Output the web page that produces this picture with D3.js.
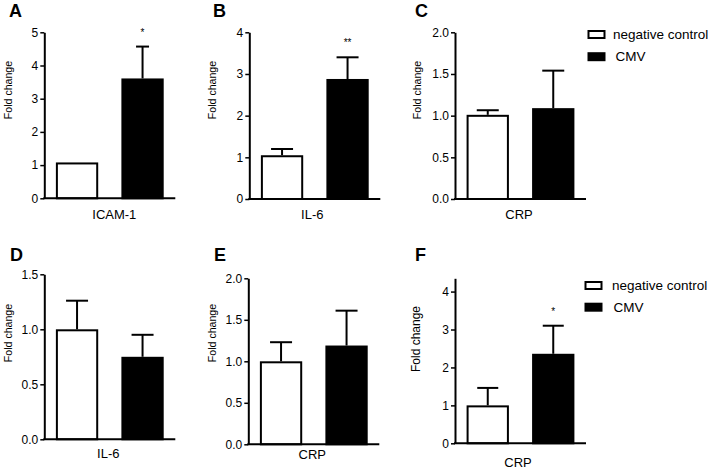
<!DOCTYPE html>
<html>
<head>
<meta charset="utf-8">
<script src="https://cdn.jsdelivr.net/npm/d3@7"></script>
<style>
  html, body { margin: 0; padding: 0; background: #fff; }
  svg { display: block; font-family: Arial, "Liberation Sans", sans-serif; }
</style>
</head>
<body>
<svg id="chart" width="709" height="473"></svg>
<script>
// ---------- data ----------
const seriesNames = ["negative control", "CMV"];
const panelLetters = ["A", "B", "C", "D", "E", "F"];
const categories = ["ICAM-1", "IL-6", "CRP", "IL-6", "CRP", "CRP"];
const controlMeans = [1.08, 1.05, 1.01, 1.0, 1.0, 1.0];
const controlErrors = [0, 0.15, 0.055, 0.26, 0.23, 0.46];
const cmvMeans = [3.61, 2.88, 1.09, 0.75, 1.19, 2.36];
const cmvErrors = [0.96, 0.52, 0.45, 0.20, 0.42, 0.74];
const yMaxima = [5, 4, 2, 1.5, 2, 4.35];
const yTickValues = [
  [0, 1, 2, 3, 4, 5],
  [0, 1, 2, 3, 4],
  [0, 0.5, 1, 1.5, 2],
  [0, 0.5, 1, 1.5],
  [0, 0.5, 1, 1.5, 2],
  [0, 1, 2, 3, 4]
];
const yTickFormats = ["d", "d", ".1f", ".1f", ".1f", "d"];
const significance = ["*", "**", "", "", "", "*"];
const yAxisTitle = "Fold change";

// ---------- layout (positions / styles only) ----------
const layout = [
  { x0: 44.3, yBottom: 198.3, yTop: 32.3, cap: 13, catDx: 70, catY: 219, letterX: 9, letterY: 17, titleX: 11.8, titleY: 90, titleSize: 10.6, legend: null },
  { x0: 249.3, yBottom: 199, yTop: 32.3, cap: 22, catDx: 63, catY: 219, letterX: 213, letterY: 17, titleX: 216.3, titleY: 90, titleSize: 10.6, legend: null },
  { x0: 455, yBottom: 199, yTop: 32.3, cap: 22, catDx: 64, catY: 219, letterX: 415, letterY: 17, titleX: 420.8, titleY: 90, titleSize: 10.6,
    legend: { boxX: 587.5, textX: [613, 615.5], y: [34.5, 56.7] } },
  { x0: 44.3, yBottom: 439.3, yTop: 274.3, cap: 22, catDx: 64, catY: 458, letterX: 10, letterY: 261, titleX: 11.8, titleY: 333, titleSize: 10.6, legend: null },
  { x0: 248.3, yBottom: 444.3, yTop: 278.3, cap: 22, catDx: 64, catY: 459, letterX: 214, letterY: 261, titleX: 216.3, titleY: 333, titleSize: 10.6, legend: null },
  { x0: 455, yBottom: 443.3, yTop: 278.3, cap: 21, catDx: 63, catY: 467, letterX: 415, letterY: 261, titleX: 420, titleY: 339, titleSize: 12, 
    legend: { boxX: 584.5, textX: [612, 613.5], y: [285.5, 307.2] } }
];

const svg = d3.select("#chart");
const STROKE = 2;

panelLetters.forEach((letter, i) => {
  const L = layout[i];
  const g = svg.append("g");

  const y = d3.scaleLinear().domain([0, yMaxima[i]]).range([L.yBottom, L.yTop]);
  const x = d3.scaleBand().domain(seriesNames).range([L.x0, L.x0 + 131])
    .paddingInner(0.354).paddingOuter(0.177);

  const rows = seriesNames.map((s, k) => ({
    s,
    mean: k === 0 ? controlMeans[i] : cmvMeans[i],
    err: k === 0 ? controlErrors[i] : cmvErrors[i],
    fill: k === 0 ? "#fff" : "#000"
  }));

  // error bars
  rows.forEach(r => {
    if (r.err <= 0) return;
    const cx = x(r.s) + x.bandwidth() / 2;
    g.append("line").attr("x1", cx).attr("x2", cx)
      .attr("y1", y(r.mean)).attr("y2", y(r.mean + r.err))
      .attr("stroke", "#000").attr("stroke-width", STROKE);
    g.append("line").attr("x1", cx - L.cap / 2).attr("x2", cx + L.cap / 2)
      .attr("y1", y(r.mean + r.err)).attr("y2", y(r.mean + r.err))
      .attr("stroke", "#000").attr("stroke-width", STROKE);
  });

  // bars
  g.selectAll("rect.bar").data(rows).enter().append("rect")
    .attr("class", "bar")
    .attr("x", d => x(d.s) + STROKE / 2)
    .attr("width", x.bandwidth() - STROKE)
    .attr("y", d => y(d.mean) + STROKE / 2)
    .attr("height", d => y(0) - y(d.mean) - STROKE / 2)
    .attr("fill", d => d.fill)
    .attr("stroke", "#000")
    .attr("stroke-width", STROKE);

  // significance marks
  if (significance[i]) {
    const r = rows[1];
    g.append("text")
      .attr("x", x(r.s) + x.bandwidth() / 2)
      .attr("y", y(r.mean + r.err) - 11)
      .attr("text-anchor", "middle")
      .attr("font-size", 10)
      .attr("fill", "#000")
      .text(significance[i]);
  }

  // x axis
  const xAxis = g.append("g").attr("transform", `translate(0,${L.yBottom})`)
    .call(d3.axisBottom(x).tickSize(0).tickFormat(""));
  xAxis.select(".domain").attr("stroke-width", STROKE).attr("d", `M${L.x0 - 1},0H${L.x0 + 131}`);

  // y axis
  const yAxis = g.append("g").attr("transform", `translate(${L.x0},0)`)
    .call(d3.axisLeft(y).tickValues(yTickValues[i]).tickFormat(d3.format(yTickFormats[i]))
      .tickSize(4).tickSizeOuter(0).tickPadding(2));
  yAxis.select(".domain").attr("stroke-width", STROKE);
  yAxis.selectAll(".tick line").attr("stroke-width", 1.5);
  yAxis.selectAll(".tick text").attr("font-size", 12).attr("font-family", "Arial, 'Liberation Sans', sans-serif").attr("fill", "#000");

  // category label
  g.append("text").attr("x", L.x0 + L.catDx).attr("y", L.catY)
    .attr("text-anchor", "middle").attr("font-size", 13).attr("fill", "#000")
    .text(categories[i]);

  // y title
  g.append("text")
    .attr("transform", `translate(${L.titleX},${L.titleY}) rotate(-90)`)
    .attr("text-anchor", "middle").attr("font-size", L.titleSize).attr("fill", "#000")
    .text(yAxisTitle);

  // panel letter
  g.append("text").attr("x", L.letterX).attr("y", L.letterY)
    .attr("font-size", 18).attr("font-weight", "bold").attr("fill", "#000")
    .text(letter);

  // legend
  if (L.legend) {
    seriesNames.forEach((s, k) => {
      g.append("rect")
        .attr("x", L.legend.boxX + 1).attr("y", L.legend.y[k] - 3.5)
        .attr("width", 16).attr("height", 7)
        .attr("fill", k === 0 ? "#fff" : "#000")
        .attr("stroke", "#000").attr("stroke-width", STROKE);
      g.append("text").attr("x", L.legend.textX[k]).attr("y", L.legend.y[k])
        .attr("dy", "0.35em").attr("font-size", 13.5).attr("fill", "#000")
        .text(s);
    });
  }
});
</script>
</body>
</html>
